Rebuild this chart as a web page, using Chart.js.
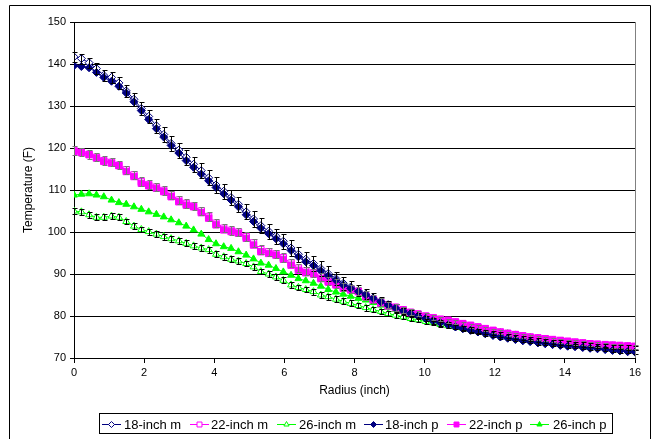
<!DOCTYPE html>
<html>
<head>
<meta charset="utf-8">
<script src="https://cdn.jsdelivr.net/npm/chart.js@4.4.0/dist/chart.umd.min.js"></script>
<style>
  html, body { margin: 0; padding: 0; background: #fff; }
  #wrap { width: 654px; height: 439px; }
</style>
</head>
<body>
<div id="wrap"><canvas id="tempChart" width="654" height="439"></canvas></div>
<script>
// radial position of each reading (inch)
const radius = [
  0, 0.21, 0.43, 0.64, 0.85, 1.07, 1.28, 1.49, 1.71, 1.92,
  2.13, 2.35, 2.56, 2.77, 2.99, 3.2, 3.41, 3.63, 3.84, 4.05,
  4.27, 4.48, 4.69, 4.91, 5.12, 5.33, 5.55, 5.76, 5.97, 6.19,
  6.4, 6.61, 6.83, 7.04, 7.25, 7.47, 7.68, 7.89, 8.11, 8.32,
  8.53, 8.75, 8.96, 9.17, 9.39, 9.6, 9.81, 10.03, 10.24, 10.45,
  10.67, 10.88, 11.09, 11.31, 11.52, 11.73, 11.95, 12.16, 12.37, 12.59,
  12.8, 13.01, 13.23, 13.44, 13.65, 13.87, 14.08, 14.29, 14.51, 14.72,
  14.93, 15.15, 15.36, 15.57, 15.79, 16
];

const temp18m = [
  141.7, 141.3, 140.3, 138.9, 137.3, 136.8, 135.5, 133.6, 131.6, 129.4,
  127.5, 125.3, 123.2, 121.1, 119.5, 117.8, 116.1, 114.6, 112.9, 111.2,
  109.7, 108.2, 106.6, 104.8, 103.1, 101.5, 100.2, 99.0, 97.8, 96.2,
  94.7, 93.5, 92.5, 91.3, 90.1, 88.9, 87.8, 86.9, 86.0, 85.2,
  84.3, 83.5, 82.7, 81.9, 81.2, 80.6, 80.0, 79.4, 78.9, 78.4,
  77.9, 77.4, 77.0, 76.6, 76.2, 75.8, 75.4, 75.1, 74.8, 74.5,
  74.2, 74.0, 73.7, 73.5, 73.3, 73.1, 72.9, 72.8, 72.6, 72.4,
  72.3, 72.1, 71.9, 71.8, 71.6, 71.5
];
const temp22m = [
  119.4, 119.0, 118.5, 117.8, 117.0, 116.6, 115.9, 114.8, 113.6, 112.0,
  111.3, 110.7, 109.9, 108.8, 107.6, 106.8, 106.2, 105.0, 103.7, 102.1,
  100.9, 100.4, 100.0, 98.9, 97.4, 95.8, 95.3, 94.8, 93.9, 92.6,
  91.4, 90.7, 90.3, 89.3, 88.4, 87.7, 86.9, 86.4, 85.9, 84.9,
  84.0, 83.3, 82.6, 82.1, 81.5, 80.9, 80.5, 80.0, 79.6, 79.2,
  78.9, 78.5, 78.1, 77.7, 77.3, 76.9, 76.5, 76.1, 75.8, 75.5,
  75.2, 74.9, 74.7, 74.5, 74.3, 74.1, 73.9, 73.7, 73.5, 73.3,
  73.2, 73.0, 72.9, 72.8, 72.7, 72.6
];
const temp26m = [
  105.0, 104.8, 104.1, 103.5, 103.5, 103.8, 103.5, 102.5, 101.4, 100.6,
  100.1, 99.5, 98.9, 98.4, 97.9, 97.3, 96.7, 96.2, 95.8, 94.7,
  94.1, 93.5, 93.1, 92.5, 91.7, 90.6, 90.0, 89.3, 88.5, 87.4,
  86.8, 86.3, 85.8, 85.0, 84.6, 84.0, 83.5, 83.0, 82.5, 82.0,
  81.5, 81.1, 80.6, 80.2, 79.8, 79.4, 79.1, 78.7, 78.4, 78.0,
  77.7, 77.4, 77.1, 76.8, 76.5, 76.2, 75.9, 75.6, 75.3, 75.0,
  74.8, 74.5, 74.3, 74.1, 73.9, 73.7, 73.5, 73.4, 73.2, 73.1,
  72.9, 72.8, 72.7, 72.6, 72.5, 72.4
];
const temp18p = [
  139.6, 139.4, 139.1, 138.0, 136.8, 135.9, 134.7, 133.1, 131.0, 128.9,
  126.8, 124.6, 122.6, 120.6, 118.8, 117.0, 115.4, 113.8, 112.2, 110.6,
  109.1, 107.6, 106.0, 104.1, 102.5, 100.9, 99.6, 98.4, 97.2, 95.6,
  94.1, 92.9, 92.0, 90.8, 89.6, 88.5, 87.4, 86.6, 85.8, 85.0,
  84.2, 83.4, 82.6, 81.9, 81.2, 80.6, 80.0, 79.4, 78.9, 78.4,
  77.9, 77.4, 77.0, 76.6, 76.2, 75.8, 75.4, 75.0, 74.7, 74.4,
  74.1, 73.9, 73.6, 73.4, 73.2, 73.0, 72.8, 72.7, 72.5, 72.3,
  72.2, 72.0, 71.8, 71.7, 71.5, 71.4
];
const temp22p = [
  119.2, 118.9, 118.4, 117.6, 116.8, 116.4, 115.8, 114.4, 113.2, 111.6,
  111.0, 110.4, 109.6, 108.4, 107.2, 106.4, 106.0, 104.6, 103.3, 101.7,
  100.5, 100.1, 99.7, 98.5, 96.9, 95.3, 94.9, 94.5, 93.5, 92.1,
  90.9, 90.3, 90.0, 88.9, 88.1, 87.4, 86.6, 86.2, 85.8, 84.6,
  83.8, 83.0, 82.4, 82.0, 81.4, 80.8, 80.4, 79.9, 79.6, 79.2,
  79.0, 78.6, 78.2, 77.8, 77.4, 77.0, 76.6, 76.2, 75.9, 75.6,
  75.3, 75.0, 74.8, 74.6, 74.4, 74.2, 74.0, 73.8, 73.6, 73.4,
  73.3, 73.2, 73.1, 73.0, 72.9, 72.8
];
const temp26p = [
  108.8, 109.0, 109.1, 108.8, 108.4, 107.6, 107.0, 106.6, 106.0, 105.4,
  104.8, 104.2, 103.6, 102.9, 102.2, 101.4, 100.5, 99.5, 98.2, 97.2,
  96.5, 96.1, 95.3, 94.5, 93.6, 92.6, 92.1, 91.3, 90.5, 89.7,
  88.9, 88.4, 87.8, 87.1, 86.3, 85.7, 85.2, 84.7, 84.2, 83.8,
  83.2, 82.6, 82.1, 81.6, 81.1, 80.6, 80.1, 79.7, 79.3, 79.0,
  78.7, 78.4, 78.0, 77.6, 77.2, 76.8, 76.4, 76.1, 75.8, 75.5,
  75.2, 74.9, 74.7, 74.4, 74.2, 74.0, 73.8, 73.6, 73.4, 73.3,
  73.1, 73.0, 72.9, 72.8, 72.7, 72.6
];

// +/- error bar half-lengths (F) on the measured series
const err18 = [
  1.2, 1.2, 1.2, 1.3, 1.3, 1.4, 1.4, 1.5, 1.5, 1.6,
  1.6, 1.7, 1.7, 1.8, 1.8, 1.8, 1.8, 1.8, 1.8, 1.8,
  1.8, 1.8, 1.8, 1.8, 1.8, 1.8, 1.8, 1.8, 1.8, 1.8,
  1.8, 1.8, 1.8, 1.8, 1.7, 1.6, 1.5, 1.4, 1.3, 1.2,
  1.1, 1.0, 0.9, 0.9, 0.8, 0.8, 0.8, 0.7, 0.7, 0.7,
  0.7, 0.6, 0.6, 0.6, 0.6, 0.6, 0.5, 0.5, 0.5, 0.5,
  0.5, 0.5, 0.5, 0.5, 0.5, 0.5, 0.5, 0.5, 0.5, 0.5,
  0.5, 0.5, 0.5, 0.5, 0.5, 0.5
];
const err22 = [
  1.0, 1.0, 1.0, 1.0, 1.0, 1.0, 1.0, 1.0, 1.0, 1.0,
  1.0, 1.0, 1.0, 1.0, 1.0, 1.0, 1.0, 1.0, 1.0, 1.0,
  1.0, 1.0, 1.0, 1.0, 1.0, 1.0, 1.0, 1.0, 1.0, 1.0,
  1.0, 1.0, 1.0, 1.0, 1.0, 1.0, 1.0, 1.0, 1.0, 1.0,
  0.9, 0.9, 0.8, 0.8, 0.7, 0.7, 0.6, 0.6, 0.6, 0.5,
  0.5, 0.5, 0.5, 0.5, 0.5, 0.5, 0.5, 0.5, 0.5, 0.5,
  0.5, 0.5, 0.5, 0.5, 0.5, 0.5, 0.5, 0.5, 0.5, 0.5,
  0.5, 0.5, 0.5, 0.5, 0.5, 0.5
];
const err26 = [
  0.7, 0.7, 0.7, 0.7, 0.7, 0.7, 0.7, 0.7, 0.7, 0.7,
  0.7, 0.7, 0.7, 0.7, 0.7, 0.7, 0.7, 0.7, 0.7, 0.7,
  0.7, 0.7, 0.7, 0.7, 0.7, 0.7, 0.7, 0.7, 0.7, 0.7,
  0.7, 0.7, 0.7, 0.7, 0.7, 0.7, 0.7, 0.7, 0.7, 0.7,
  0.6, 0.6, 0.6, 0.6, 0.5, 0.5, 0.5, 0.5, 0.5, 0.5,
  0.5, 0.5, 0.5, 0.5, 0.5, 0.5, 0.5, 0.5, 0.5, 0.5,
  0.5, 0.5, 0.5, 0.5, 0.5, 0.5, 0.5, 0.5, 0.5, 0.5,
  0.5, 0.5, 0.5, 0.5, 0.5, 0.5
];

const xTicks = [0, 2, 4, 6, 8, 10, 12, 14, 16];
const yTicks = [70, 80, 90, 100, 110, 120, 130, 140, 150];

const FONT = "Arial, 'Liberation Sans', sans-serif";
const NAVY = "#000080", PINK = "#FF00FF", GREEN = "#00FF00";

function pts(ys) {
  return ys.map((y, i) => ({ x: radius[i], y: y }));
}

function series(label, ys, color, style, open, size, errs, errColor) {
  return {
    label: label,
    data: pts(ys),
    borderColor: color,
    backgroundColor: open ? "#fff" : color,
    pointBorderColor: color,
    pointBackgroundColor: open ? "#fff" : color,
    pointStyle: style,
    pointRadius: size,
    pointBorderWidth: 1,
    borderWidth: 1,
    tension: 0,
    fill: false,
    order: open ? 1 : 0, // filled markers on top
    errs: errs,
    errColor: errColor
  };
}

const datasets = [
  series("18-inch m", temp18m, NAVY, "rectRot", true, 4, err18, "#000"),
  series("22-inch m", temp22m, PINK, "rect", true, 4.5, err22, "#777"),
  series("26-inch m", temp26m, GREEN, "triangle", true, 4, err26, "#000"),
  series("18-inch p", temp18p, NAVY, "rectRot", false, 4, null, null),
  series("22-inch p", temp22p, PINK, "rect", false, 4.5, null, null),
  series("26-inch p", temp26p, GREEN, "triangle", false, 4, null, null)
];

const frame = {
  id: "frame",
  beforeDraw(chart) {
    const c = chart.ctx;
    c.save();
    c.fillStyle = "#fff";
    c.fillRect(0, 0, chart.width, chart.height);
    c.restore();
  },
  afterDraw(chart) {
    const c = chart.ctx;
    const a = chart.chartArea;
    c.save();
    // right edge of plot
    c.strokeStyle = "#808080";
    c.lineWidth = 1;
    c.beginPath();
    c.moveTo(Math.round(a.right) + 0.5, a.top);
    c.lineTo(Math.round(a.right) + 0.5, a.bottom);
    c.stroke();
    // outer box
    c.strokeStyle = "#000";
    c.beginPath();
    c.moveTo(9.5, 440);
    c.lineTo(9.5, 5.5);
    c.lineTo(650.5, 5.5);
    c.lineTo(650.5, 440);
    c.stroke();

    // legend
    c.strokeRect(99.5, 413.5, 513, 20);
    const lineX = [102, 190, 277, 364, 447, 530];
    const textX = [124, 211, 299, 385, 469, 553];
    const ly = 424;
    c.font = "13px " + FONT;
    c.textBaseline = "middle";
    chart.data.datasets.forEach((ds, i) => {
      c.strokeStyle = ds.borderColor;
      c.lineWidth = 1;
      c.beginPath();
      c.moveTo(lineX[i], ly + 0.5);
      c.lineTo(lineX[i] + 19, ly + 0.5);
      c.stroke();
      c.fillStyle = ds.pointBackgroundColor;
      c.strokeStyle = ds.pointBorderColor;
      Chart.helpers.drawPoint(c, {
        pointStyle: ds.pointStyle, radius: ds.pointRadius - 1,
        borderWidth: 1, rotation: 0
      }, lineX[i] + 9.5, ly + 0.5);
      c.fillStyle = "#000";
      c.fillText(ds.label, textX[i], ly + 1);
    });
    c.restore();
  }
};

const errorBars = {
  id: "errorBars",
  afterDatasetsDraw(chart) {
    const c = chart.ctx;
    const xs = chart.scales.x, ys = chart.scales.y;
    c.save();
    c.lineWidth = 1;
    chart.data.datasets.forEach((ds) => {
      if (!ds.errs) return;
      c.strokeStyle = ds.errColor;
      ds.data.forEach((p, i) => {
        const e = ds.errs[i];
        const px = Math.round(xs.getPixelForValue(p.x)) + 0.5;
        const top = Math.round(ys.getPixelForValue(p.y + e)) + 0.5;
        const bot = Math.round(ys.getPixelForValue(p.y - e)) + 0.5;
        c.beginPath();
        c.moveTo(px, top);
        c.lineTo(px, bot);
        c.moveTo(px - 2, top);
        c.lineTo(px + 3, top);
        c.moveTo(px - 2, bot);
        c.lineTo(px + 3, bot);
        c.stroke();
      });
    });
    c.restore();
  }
};

new Chart(document.getElementById("tempChart"), {
  type: "line",
  data: { datasets: datasets },
  plugins: [frame, errorBars],
  options: {
    responsive: false,
    animation: false,
    devicePixelRatio: 1,
    layout: { padding: { left: 16, right: 19, top: 22, bottom: 37 } },
    plugins: {
      legend: { display: false },
      tooltip: { enabled: false }
    },
    scales: {
      x: {
        type: "linear",
        min: 0,
        max: 16,
        afterBuildTicks: (s) => { s.ticks = xTicks.map(v => ({ value: v })); },
        afterFit: (s) => { s.height = 44; },
        ticks: { color: "#000", font: { family: FONT, size: 11 }, padding: 3, maxRotation: 0 },
        grid: { drawOnChartArea: false, color: "#000", tickLength: 5 },
        border: { color: "#000" },
        title: {
          display: true, text: "Radius (inch)", color: "#000",
          font: { family: FONT, size: 12 }, padding: { top: 3, bottom: 4 }
        }
      },
      y: {
        min: 70,
        max: 150,
        afterBuildTicks: (s) => { s.ticks = yTicks.map(v => ({ value: v })); },
        afterFit: (s) => { s.width = 58; },
        ticks: { color: "#000", font: { family: FONT, size: 11 }, padding: 4 },
        grid: { color: "#000", tickLength: 4 },
        border: { color: "#000" },
        title: {
          display: true, text: "Temperature (F)", color: "#000",
          font: { family: FONT, size: 12 }, padding: { top: 5, bottom: 0 }
        }
      }
    }
  }
});
</script>
</body>
</html>
